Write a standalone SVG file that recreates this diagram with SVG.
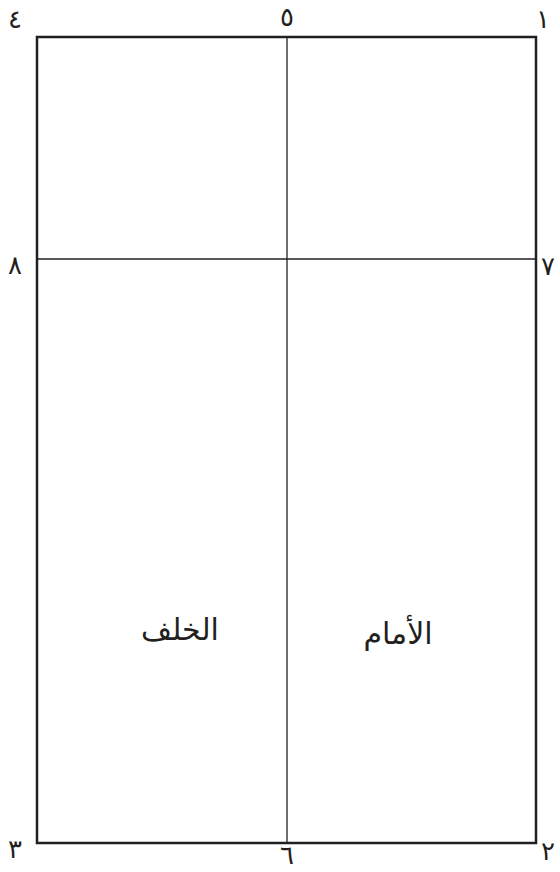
<svg xmlns="http://www.w3.org/2000/svg" width="560" height="872" viewBox="0 0 560 872">
<style>
.lbl{font-family:"DejaVu Sans","Noto Sans",sans-serif;font-size:26px;fill:#231f20;text-anchor:middle}
.big{font-family:"DejaVu Sans","Noto Sans",sans-serif;font-size:30px;fill:#231f20;text-anchor:middle}
.frame{fill:none;stroke:#231f20;stroke-width:2.5}
.line{stroke:#231f20;stroke-width:1.3}
</style>
<rect width="560" height="872" fill="#fff"/>
<g id="connectors">
<line class="line" x1="287" y1="37" x2="287" y2="843"/>
<line class="line" x1="37" y1="259" x2="536" y2="259"/>
</g>
<g id="frame"><rect class="frame" x="37" y="37" width="499" height="806"/></g>
<g id="labels">
<text class="lbl" x="15" y="28">٤</text>
<text class="lbl" x="287" y="26">٥</text>
<text class="lbl" x="543" y="28">١</text>
<text class="lbl" x="15" y="274">٨</text>
<text class="lbl" x="548" y="275">٧</text>
<text class="lbl" x="15" y="858">٣</text>
<text class="lbl" x="287" y="864">٦</text>
<text class="lbl" x="548" y="860">٢</text>
</g>
<g id="back"><text class="big" x="180" y="640">الخلف</text></g>
<g id="front"><text class="big" x="398" y="644">الأمام</text></g>
</svg>
